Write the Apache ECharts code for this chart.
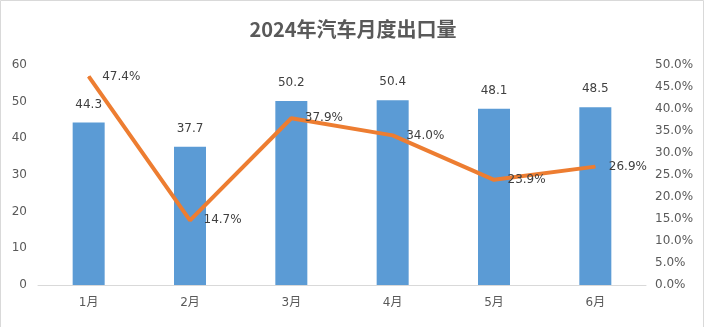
<!DOCTYPE html>
<html><head><meta charset="utf-8">
<script src="https://cdn.jsdelivr.net/npm/echarts@6/dist/echarts.min.js"></script>
<style>html,body{margin:0;padding:0;background:#fff}#c{width:706px;height:327px}</style>
</head><body><div id="c"></div>
<script>
const categories = ['1月','2月','3月','4月','5月','6月'];
const exportVolume = [44.3, 37.7, 50.2, 50.4, 48.1, 48.5];
const growthRate = [47.4, 14.7, 37.9, 34.0, 23.9, 26.9];
const titleText = '2024年汽车月度出口量';

const chart = echarts.init(document.getElementById('c'));
const txt = '#595959';
const ff = '"DejaVu Sans", "Noto Sans CJK SC", sans-serif';
chart.setOption({
  animation: false,
  backgroundColor: '#fff',
  textStyle: { fontFamily: ff },
  title: { text: titleText, left: 'center', top: 14,
    textStyle: { fontFamily: 'Noto Sans CJK SC', fontSize: 20, fontWeight: 'bold', color: '#595959' } },
  graphic: [{ type: 'rect', shape: { x: 0.5, y: 0.5, width: 703, height: 340 },
    style: { fill: 'none', stroke: '#d9d9d9', lineWidth: 1 }, silent: true }],
  grid: { left: 38, right: 60, top: 65, bottom: 42 },
  xAxis: { type: 'category', data: categories,
    axisLine: { lineStyle: { color: '#d9d9d9' } }, axisTick: { show: false },
    axisLabel: { color: txt, fontSize: 12, margin: 12, fontFamily: ff } },
  yAxis: [
    { type: 'value', min: 0, max: 60, interval: 10, splitLine: { show: false },
      axisLine: { show: false }, axisTick: { show: false },
      axisLabel: { color: txt, fontSize: 12, margin: 11, fontFamily: ff } },
    { type: 'value', min: 0, max: 50, interval: 5, splitLine: { show: false },
      axisLine: { show: false }, axisTick: { show: false },
      axisLabel: { color: txt, fontSize: 12, margin: 9, fontFamily: ff, formatter: v => v.toFixed(1) + '%' } }
  ],
  series: [
    { type: 'bar', data: exportVolume, barWidth: 32, itemStyle: { color: '#5b9bd5' },
      label: { show: true, position: 'top', distance: 12, color: '#404040', fontSize: 12, fontFamily: ff } },
    { type: 'line', yAxisIndex: 1, data: growthRate, symbol: 'circle', symbolSize: 1, showSymbol: true,
      itemStyle: { color: '#ed7d31' },
      lineStyle: { color: '#ed7d31', width: 4 },
      label: { show: true, position: 'right', distance: 13, color: '#404040', fontSize: 12, fontFamily: ff,
        formatter: p => p.value.toFixed(1) + '%' } }
  ]
});
</script></body></html>
